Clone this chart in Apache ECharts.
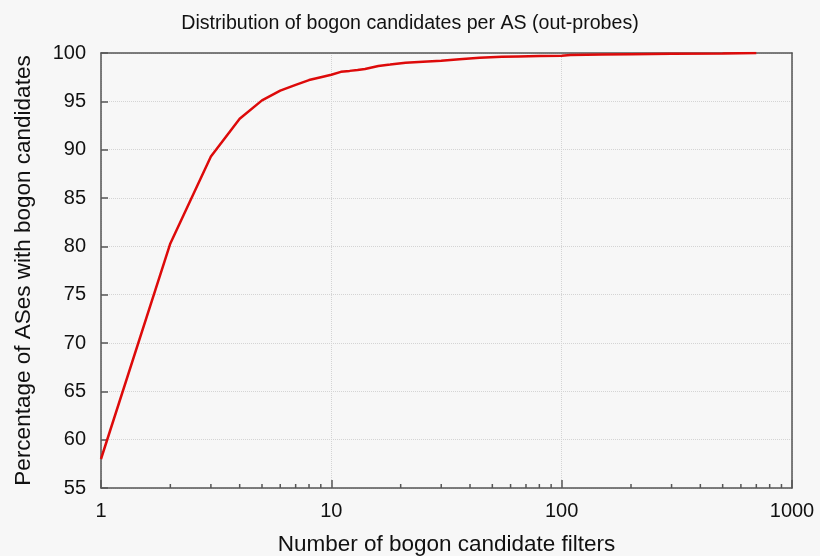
<!DOCTYPE html>
<html>
<head>
<meta charset="utf-8">
<script src="https://cdn.jsdelivr.net/npm/echarts@6/dist/echarts.min.js"></script>
<style>
html,body{margin:0;padding:0;background:#f7f7f7;}
#chart{width:820px;height:556px;}
</style>
</head>
<body>
<div id="chart"></div>
<script>
var filters = [1,2,3,4,5,6,7,8,9,10,11,12,13,14,16,18,21,25,30,36,44,55,65,80,100,109,150,200,300,500,700];
var percentages = [58.0,80.3,89.3,93.2,95.1,96.1,96.7,97.2,97.5,97.75,98.05,98.15,98.25,98.35,98.65,98.8,99.0,99.1,99.2,99.35,99.5,99.6,99.65,99.7,99.72,99.8,99.85,99.88,99.92,99.96,100];
var minorTickValues = [2,3,4,5,6,7,8,9,20,30,40,50,60,70,80,90,200,300,400,500,600,700,800,900];
var titleText = 'Distribution of bogon candidates per AS (out-probes)';
var xName = 'Number of bogon candidate filters';
var yName = 'Percentage of ASes with bogon candidates';

var font = '"Liberation Sans", Arial, sans-serif';
var chart = echarts.init(document.getElementById('chart'));
var lineData = filters.map(function(f, i){ return [f, percentages[i]]; });
var frameLine = {show: true, lineStyle: {color: '#555', width: 1.5}};

chart.setOption({
  backgroundColor: '#f7f7f7',
  animation: false,
  title: {
    text: titleText, left: 'center', top: 9,
    textStyle: {fontFamily: font, fontSize: 19.6, fontWeight: 'normal', color: '#111'}
  },
  grid: {left: 101, right: 28, top: 53, bottom: 68, outerBoundsMode: 'none', containLabel: false},
  xAxis: [{
    type: 'log', logBase: 10, min: 1, max: 1000,
    name: xName, nameLocation: 'middle', nameGap: 45,
    nameTextStyle: {fontFamily: font, fontSize: 22.5, color: '#111'},
    axisLine: frameLine,
    axisTick: {show: true, inside: true, length: 8, lineStyle: {color: '#555', width: 1.5}},
    axisLabel: {fontFamily: font, fontSize: 20, color: '#111', margin: 13, formatter: function(v){ return String(v); }},
    splitLine: {show: true, lineStyle: {color: '#d4d4d4', type: 'dotted', width: 1}}
  }, {
    type: 'log', logBase: 10, min: 1, max: 1000, position: 'top',
    axisLine: frameLine, axisTick: {show: false}, axisLabel: {show: false}, splitLine: {show: false}
  }],
  yAxis: [{
    type: 'value', min: 55, max: 100, interval: 5,
    name: yName, nameLocation: 'middle', nameGap: 66,
    nameTextStyle: {fontFamily: font, fontSize: 22.5, color: '#111'},
    axisLine: frameLine,
    axisTick: {show: true, inside: true, length: 7, lineStyle: {color: '#555', width: 1.5}},
    axisLabel: {fontFamily: font, fontSize: 20, color: '#111', margin: 15},
    splitLine: {show: true, lineStyle: {color: '#d4d4d4', type: 'dotted', width: 1}}
  }, {
    type: 'value', min: 55, max: 100, interval: 5, position: 'right',
    axisLine: frameLine, axisTick: {show: false}, axisLabel: {show: false}, splitLine: {show: false}
  }],
  series: [
    {
      type: 'custom',
      silent: true,
      clip: false,
      data: minorTickValues.map(function(v){ return [v, 55]; }),
      renderItem: function(params, api){
        var p = api.coord([api.value(0), api.value(1)]);
        return {type: 'line', shape: {x1: p[0], y1: p[1], x2: p[0], y2: p[1] - 4}, style: {stroke: '#555', lineWidth: 1.5}};
      },
      z: 3
    },
    {
      type: 'line',
      data: lineData,
      showSymbol: false,
      lineStyle: {color: '#dd0a0a', width: 2.5},
      z: 5
    }
  ]
});
</script>
</body>
</html>
